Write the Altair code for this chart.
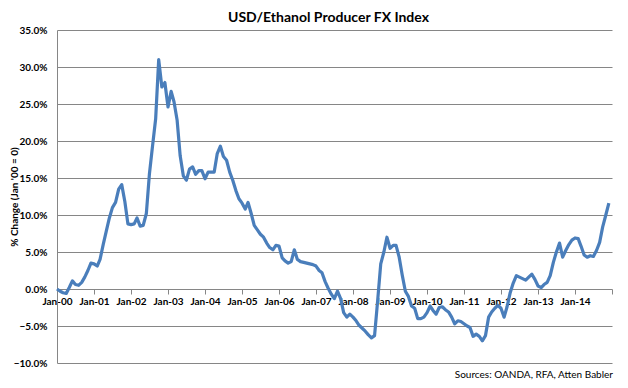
import altair as alt
import pandas as pd

# Monthly % change vs Jan 2000, Jan-00 ... Dec-14
values = [
    0.0, -0.3, -0.5, -0.6, 0.2, 1.1, 0.6, 0.5, 0.9, 1.6, 2.5, 3.5,
    3.4, 3.1, 4.0, 6.0, 7.8, 9.6, 11.0, 11.7, 13.5, 14.1, 11.8, 8.8,
    8.7, 8.8, 9.6, 8.5, 8.6, 10.2, 15.5, 19.3, 23.0, 31.0, 27.3, 27.9,
    24.6, 26.7, 25.3, 22.8, 18.0, 15.3, 14.7, 16.2, 16.5, 15.5, 16.0, 16.0,
    14.9, 15.8, 15.8, 15.8, 18.3, 19.3, 17.9, 17.4, 15.8, 14.7, 13.3, 12.2,
    11.6, 10.8, 11.7, 10.2, 8.6, 8.0, 7.4, 7.0, 6.2, 5.6, 5.3, 5.9,
    5.8, 4.2, 3.8, 3.5, 3.7, 5.3, 4.0, 3.7, 3.6, 3.5, 3.4, 3.3,
    3.1, 2.5, 2.2, 1.0, 0.1, -0.7, -1.3, -0.3, -1.3, -3.2, -3.8, -3.4,
    -3.8, -4.3, -4.9, -5.3, -5.7, -6.2, -6.6, -6.3, -1.5, 3.4, 5.0, 7.0,
    5.5, 5.9, 5.9, 4.3, 1.9, -0.3, -1.0, -2.3, -2.6, -4.0, -4.0, -3.8,
    -3.2, -2.3, -2.9, -3.4, -2.5, -2.4, -2.8, -3.1, -3.8, -4.7, -4.3, -4.4,
    -4.7, -5.0, -5.2, -6.4, -6.1, -6.4, -7.0, -6.3, -3.8, -3.1, -2.6, -2.2,
    -2.6, -3.8, -2.4, -0.5, 0.8, 1.8, 1.6, 1.4, 1.2, 1.6, 2.0, 1.3,
    0.4, 0.2, 0.6, 0.9, 1.8, 3.6, 5.0, 6.2, 4.3, 5.2, 6.0, 6.6,
    6.9, 6.8, 5.8, 4.6, 4.3, 4.5, 4.4, 5.2, 6.3, 8.4, 10.0, 11.6,
]
months = [f"{2000 + i // 12}-{i % 12 + 1:02d}-01" for i in range(len(values))]
tick_years = list(range(2000, 2016))
y_ticks = [-10, -5, 0, 5, 10, 15, 20, 25, 30, 35]

title_text = "USD/Ethanol Producer FX Index"
y_title = "% Change (Jan '00 = 0)"
source_text = ["Sources: OANDA, RFA, Atten Babler"]

df = pd.DataFrame({"month": months, "change": values})
src = pd.DataFrame({"t": source_text})

W, H = 555, 333
zero_offset = -H * 10 / 45
FONT = "Lato"
GRID = "#868686"

line = alt.Chart(df).mark_line(color="#4A7EBB", strokeWidth=3.2, strokeJoin="round").encode(
    x=alt.X(
        "month:T",
        scale=alt.Scale(
            type="utc",
            domain=[alt.DateTime(year=2000, month=1, date=1, utc=True),
                    alt.DateTime(year=2015, month=1, date=1, utc=True)],
        ),
        axis=alt.Axis(
            values=[alt.DateTime(year=y, month=1, date=1, utc=True) for y in tick_years],
            labelExpr="utcyear(datum.value) >= 2015 ? '' : utcFormat(datum.value, '%b-%y')",
            offset=zero_offset,
            domain=False,
            grid=False,
            tickColor=GRID,
            tickSize=5,
            labelFont=FONT,
            labelFontSize=10,
            labelFontWeight="bold",
            labelColor="#000000",
            labelPadding=2,
            labelOverlap=False,
            labelFlush=False,
            title=None,
        ),
    ),
    y=alt.Y(
        "change:Q",
        scale=alt.Scale(domain=[-10, 35], nice=False, zero=False),
        axis=alt.Axis(
            values=y_ticks,
            labelExpr="format(datum.value, '.1f') + '%'",
            grid=True,
            gridColor=GRID,
            gridWidth=1,
            gridOpacity=1,
            domainColor=GRID,
            ticks=False,
            labelPadding=10,
            labelFont=FONT,
            labelFontSize=10,
            labelFontWeight="bold",
            labelColor="#000000",
            title=y_title,
            titleFont=FONT,
            titleFontSize=10,
            titleFontWeight="bold",
            titleColor="#000000",
            titleX=-38,
            titleY=H / 2,
            titleAngle=270,
            titleAlign="center",
            titleBaseline="bottom",
        ),
    ),
)

sources = alt.Chart(src).mark_text(
    align="right", baseline="middle", font=FONT, fontSize=10, color="#000000"
).encode(
    x=alt.value(556),
    y=alt.value(345),
    text="t:N",
)

chart = alt.layer(line, sources).properties(
    width=W,
    height=H,
    title=alt.TitleParams(
        text=title_text, font=FONT, fontSize=14, fontWeight="bold",
        color="#000000", anchor="middle", dx=-6, offset=0,
    ),
    padding={"left": 49, "top": 22, "right": 8, "bottom": 19},
    autosize=alt.AutoSizeParams(type="none"),
).configure_view(stroke=None)

chart.save("out.html", embed_options={"renderer": "svg", "actions": False})
